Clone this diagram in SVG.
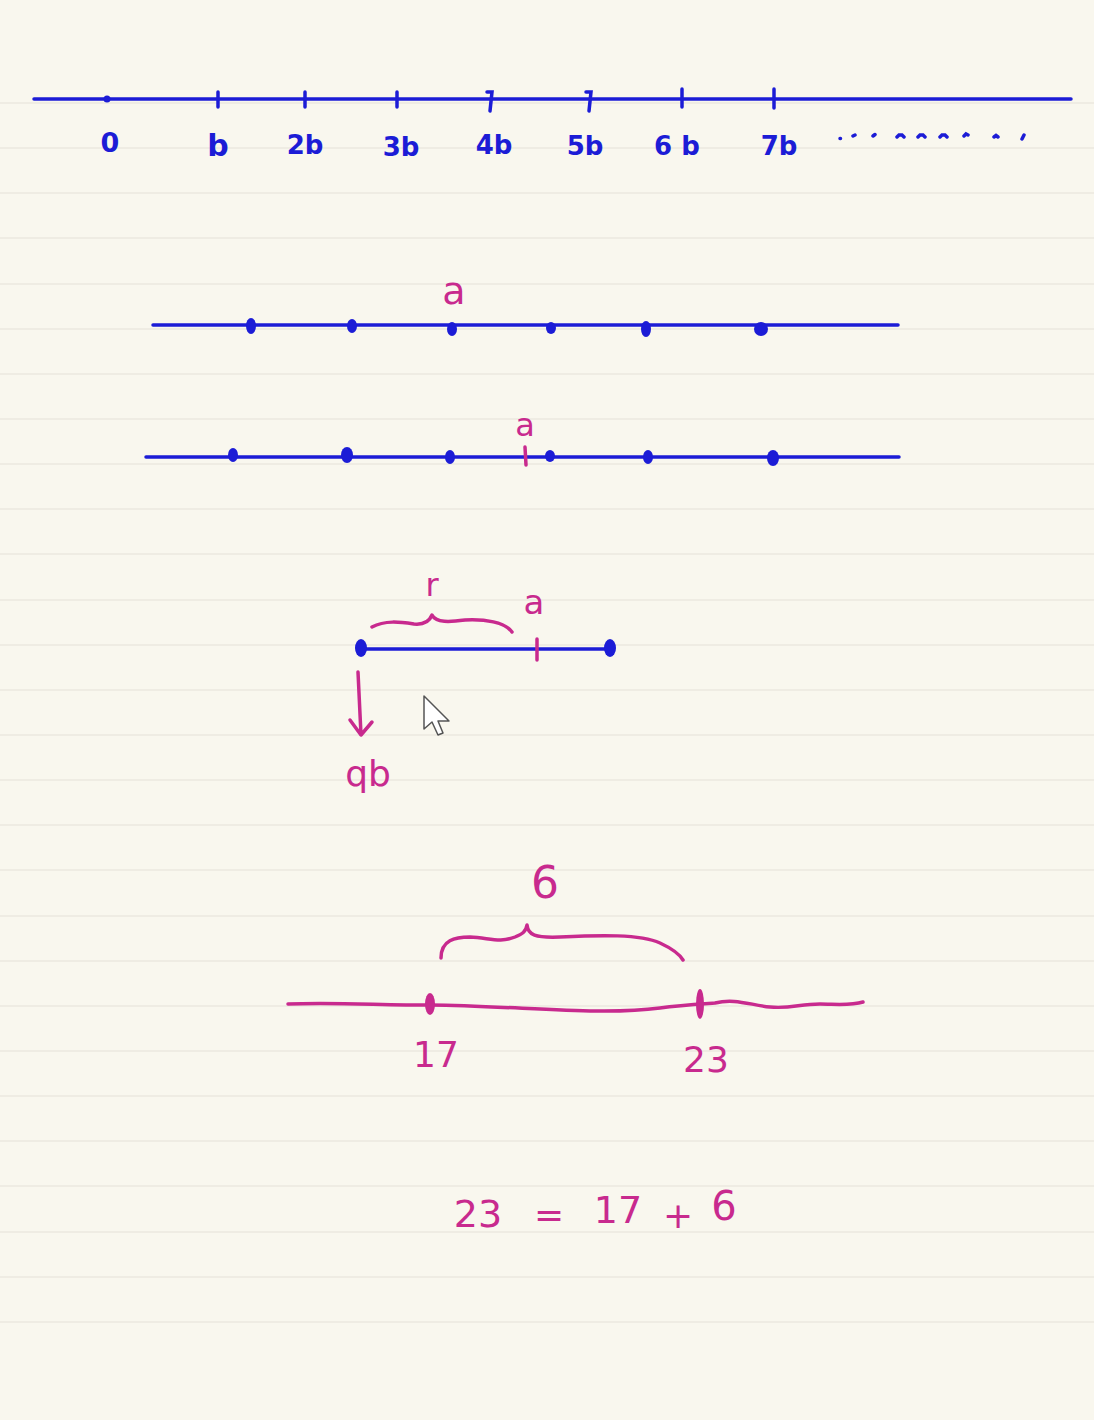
<svg xmlns="http://www.w3.org/2000/svg" width="1094" height="1420" viewBox="0 0 1094 1420">
<defs>
<style>
.bl{stroke:#1c1cd6;stroke-width:3.5;fill:none;stroke-linecap:round}
.mg{stroke:#c82a8e;stroke-width:3.5;fill:none;stroke-linecap:round;stroke-linejoin:round}
.rule{stroke:#ebe9df;stroke-width:1.5}
.tb{font-family:"DejaVu Sans","Liberation Sans",sans-serif;fill:#1c1cd6;font-weight:bold;text-anchor:middle}
.tm{font-family:"DejaVu Sans","Liberation Sans",sans-serif;fill:#c82a8e;text-anchor:middle}
.dot{fill:#1c1cd6}
</style>
</defs>
<rect x="0" y="0" width="1094" height="1420" fill="#f9f7ee"/>
<g id="rules">
<line class="rule" x1="0" y1="103" x2="1094" y2="103"/>
<line class="rule" x1="0" y1="148" x2="1094" y2="148"/>
<line class="rule" x1="0" y1="193" x2="1094" y2="193"/>
<line class="rule" x1="0" y1="238" x2="1094" y2="238"/>
<line class="rule" x1="0" y1="284" x2="1094" y2="284"/>
<line class="rule" x1="0" y1="329" x2="1094" y2="329"/>
<line class="rule" x1="0" y1="374" x2="1094" y2="374"/>
<line class="rule" x1="0" y1="419" x2="1094" y2="419"/>
<line class="rule" x1="0" y1="464" x2="1094" y2="464"/>
<line class="rule" x1="0" y1="509" x2="1094" y2="509"/>
<line class="rule" x1="0" y1="554" x2="1094" y2="554"/>
<line class="rule" x1="0" y1="600" x2="1094" y2="600"/>
<line class="rule" x1="0" y1="645" x2="1094" y2="645"/>
<line class="rule" x1="0" y1="690" x2="1094" y2="690"/>
<line class="rule" x1="0" y1="735" x2="1094" y2="735"/>
<line class="rule" x1="0" y1="780" x2="1094" y2="780"/>
<line class="rule" x1="0" y1="825" x2="1094" y2="825"/>
<line class="rule" x1="0" y1="870" x2="1094" y2="870"/>
<line class="rule" x1="0" y1="916" x2="1094" y2="916"/>
<line class="rule" x1="0" y1="961" x2="1094" y2="961"/>
<line class="rule" x1="0" y1="1006" x2="1094" y2="1006"/>
<line class="rule" x1="0" y1="1051" x2="1094" y2="1051"/>
<line class="rule" x1="0" y1="1096" x2="1094" y2="1096"/>
<line class="rule" x1="0" y1="1141" x2="1094" y2="1141"/>
<line class="rule" x1="0" y1="1186" x2="1094" y2="1186"/>
<line class="rule" x1="0" y1="1232" x2="1094" y2="1232"/>
<line class="rule" x1="0" y1="1277" x2="1094" y2="1277"/>
<line class="rule" x1="0" y1="1322" x2="1094" y2="1322"/>
</g>
<g id="numberline-b">
<line class="bl" x1="34" y1="99" x2="1071" y2="99"/>
<circle class="dot" cx="107" cy="99" r="3.5"/>
<line class="bl" x1="218" y1="92" x2="218" y2="107"/>
<line class="bl" x1="305" y1="92" x2="305" y2="107"/>
<line class="bl" x1="397" y1="92" x2="397" y2="107"/>
<path class="bl" d="M487 92 L492 92 L490 111"/>
<path class="bl" d="M586 92 L591 92 L589 111"/>
<line class="bl" x1="682" y1="89" x2="682" y2="107"/>
<path class="bl" d="M774 89 L774 108"/>
<text class="tb" x="110" y="152" font-size="27">0</text>
<text class="tb" x="218" y="156" font-size="30">b</text>
<text class="tb" x="305" y="154" font-size="26">2b</text>
<text class="tb" x="401" y="156" font-size="26">3b</text>
<text class="tb" x="494" y="154" font-size="26">4b</text>
<text class="tb" x="585" y="155" font-size="26">5b</text>
<text class="tb" x="677" y="155" font-size="26">6 b</text>
<text class="tb" x="779" y="155" font-size="26">7b</text>
<path class="bl" d="M840 138.5 l0.5 0 M853 136 l2 -1 M873 136 l2 -1.5 M897 137 l2 -2 l3 0 l2 2 M918 137 l2 -2 l3 0 l2 2 M940 137 l2 -2 l3 0 l2 2 M964 136 l2 -2 l2 1 M994 137 l2 -1.5 l2 1.5 M1022 139 l2 -4"/>
</g>
<g id="numberline-a1">
<line class="bl" x1="153" y1="325" x2="898" y2="325"/>
<ellipse class="dot" cx="251" cy="326" rx="5" ry="8"/>
<ellipse class="dot" cx="352" cy="326" rx="5" ry="7"/>
<ellipse class="dot" cx="452" cy="329" rx="5" ry="7"/>
<ellipse class="dot" cx="551" cy="328" rx="5" ry="6"/>
<ellipse class="dot" cx="646" cy="329" rx="5" ry="8"/>
<ellipse class="dot" cx="761" cy="329" rx="7" ry="7"/>
<text class="tm" x="454" y="304" font-size="38">a</text>
</g>
<g id="numberline-a2">
<line class="bl" x1="146" y1="457" x2="899" y2="457"/>
<ellipse class="dot" cx="233" cy="455" rx="5" ry="7"/>
<ellipse class="dot" cx="347" cy="455" rx="6" ry="8"/>
<ellipse class="dot" cx="450" cy="457" rx="5" ry="7"/>
<ellipse class="dot" cx="550" cy="456" rx="5" ry="6"/>
<ellipse class="dot" cx="648" cy="457" rx="5" ry="7"/>
<ellipse class="dot" cx="773" cy="458" rx="6" ry="8"/>
<line class="mg" x1="525" y1="447" x2="526" y2="465"/>
<text class="tm" x="525" y="436" font-size="32">a</text>
</g>
<g id="segment">
<line class="bl" x1="361" y1="649" x2="610" y2="649"/>
<ellipse class="dot" cx="361" cy="648" rx="6" ry="9"/>
<ellipse class="dot" cx="610" cy="648" rx="6" ry="9"/>
<line class="mg" x1="537" y1="639" x2="537" y2="660"/>
<path class="mg" d="M372 627 C385 620 400 622 414 624 C425 625 430 620 432 615 C436 623 450 622 465 620 C485 619 505 622 512 632"/>
<text class="tm" x="432" y="596" font-size="32">r</text>
<text class="tm" x="534" y="614" font-size="34">a</text>
<path class="mg" d="M358 672 L361 735 M350 720 L361 735 L372 722"/>
<text class="tm" x="368" y="786" font-size="36">qb</text>
<path d="M424 696 L424 729 L432 722 L438 735 L443 733 L438 721 L449 721 Z" fill="#ffffff" stroke="#555" stroke-width="1.5" stroke-linejoin="round"/>
</g>
<g id="interval">
<path class="mg" d="M288 1004 C330 1002 380 1005 430 1005 C520 1006 600 1016 660 1008 C680 1005 700 1004 715 1003 C735 998 750 1005 770 1007 C790 1009 800 1004 820 1004 C835 1004 850 1006 863 1002"/>
<ellipse cx="430" cy="1004" rx="5" ry="11" fill="#c82a8e"/>
<ellipse cx="700" cy="1004" rx="4" ry="15" fill="#c82a8e"/>
<path class="mg" d="M441 958 C441 940 455 937 470 937 C490 938 500 943 515 937 C522 934 526 932 527 925 C528 935 535 938 560 937 C600 935 640 934 660 943 C675 950 680 955 683 960"/>
<text class="tm" x="436" y="1067" font-size="36">17</text>
<text class="tm" x="706" y="1072" font-size="36">23</text>
<text class="tm" x="545" y="898" font-size="44">6</text>
</g>
<g id="equation">
<text class="tm" x="478" y="1227" font-size="38">23</text>
<text class="tm" x="549" y="1227" font-size="36">=</text>
<text class="tm" x="618" y="1223" font-size="38">17</text>
<text class="tm" x="678" y="1228" font-size="36">+</text>
<text class="tm" x="724" y="1220" font-size="40">6</text>
</g>
</svg>
